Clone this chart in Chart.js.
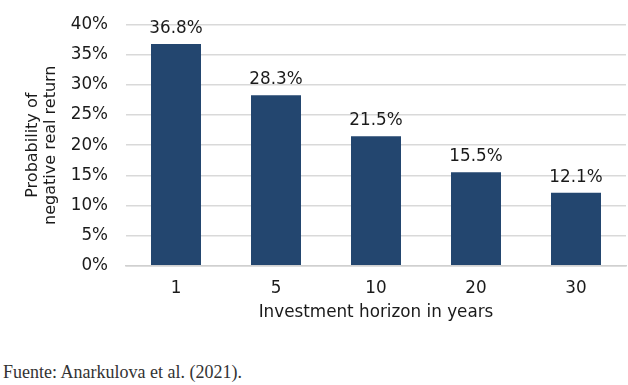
<!DOCTYPE html>
<html>
<head>
<meta charset="utf-8">
<script src="https://cdn.jsdelivr.net/npm/chart.js@4"></script>
<style>
    body { margin: 0; background: #fff; }
    #wrap { position: relative; width: 628px; height: 385px; }
    #box { position: absolute; left: 0; top: 0; width: 628px; height: 329px; }
    #source { position: absolute; left: 3px; top: 362px; font-family: "Liberation Serif", serif; font-size: 18px; color: #333; }
</style>
</head>
<body>
<div id="wrap">
    <div id="box"><canvas id="myChart"></canvas></div>
    <div id="source">Fuente: Anarkulova et al. (2021).</div>
</div>
<script>
const horizons = ["1", "5", "10", "20", "30"];
const probNegative = [36.8, 28.3, 21.5, 15.5, 12.1];

// labels above bars
const barLabels = {
    id: "barLabels",
    afterDatasetsDraw(chart) {
        const ctx = chart.ctx;
        const meta = chart.getDatasetMeta(0);
        ctx.save();
        ctx.font = "16.8px 'DejaVu Sans'";
        ctx.fillStyle = "#1a1a1a";
        ctx.textAlign = "center";
        ctx.textBaseline = "bottom";
        meta.data.forEach((bar, i) => {
            ctx.fillText(probNegative[i].toFixed(1) + "%", bar.x, bar.y - 7);
        });
        ctx.restore();
    }
};

const font = { family: "'DejaVu Sans'", size: 16.8 };

new Chart(document.getElementById("myChart"), {
    type: "bar",
    data: {
        labels: horizons,
        datasets: [{
            data: probNegative,
            backgroundColor: "#23466f",
            barPercentage: 0.5,
            categoryPercentage: 1
        }]
    },
    options: {
        responsive: true,
        maintainAspectRatio: false,
        animation: false,
        layout: { padding: { left: 24, right: 2, top: 4, bottom: 6 } },
        plugins: {
            legend: { display: false },
            tooltip: { enabled: false }
        },
        scales: {
            x: {
                grid: { display: false, drawTicks: false },
                border: { color: "#d0d0d0", width: 1.5 },
                ticks: { color: "#1a1a1a", font: font, padding: 13 },
                title: { display: true, text: "Investment horizon in years", color: "#1a1a1a", font: font, padding: { top: -9, bottom: 0 } }
            },
            y: {
                min: 0,
                max: 40,
                afterFit(scale) { scale.width = 102; },
                grid: { color: "#d9d9d9", lineWidth: 1.5, drawTicks: false },
                border: { display: false },
                ticks: { stepSize: 5, color: "#1a1a1a", font: { family: "'DejaVu Sans'", size: 16.8, lineHeight: 0.8 }, padding: 18, callback: v => v + "%" },
                title: { display: true, text: ["Probability of", "negative real return"], color: "#1a1a1a", font: { family: "'DejaVu Sans'", size: 16, lineHeight: 1.1 }, padding: { top: 0, bottom: 0 } }
            }
        }
    },
    plugins: [barLabels]
});
</script>
</body>
</html>
